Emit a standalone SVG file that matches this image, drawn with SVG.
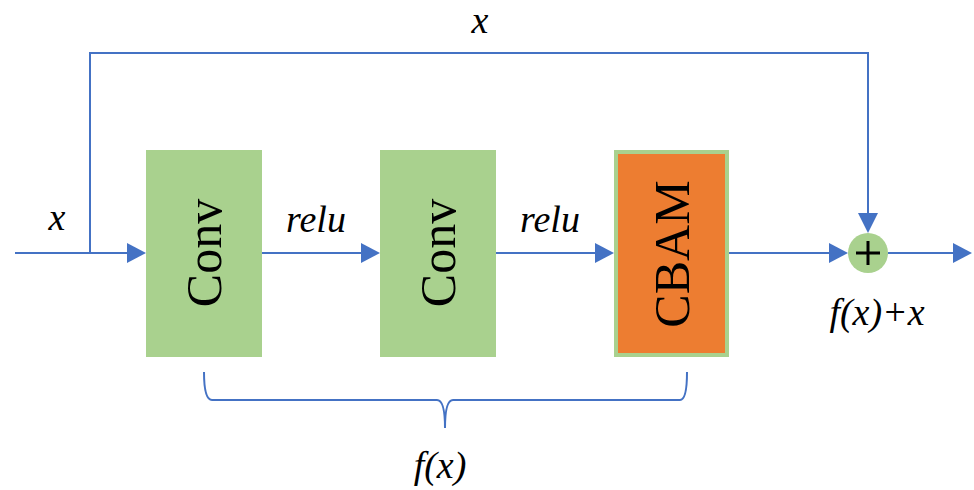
<svg xmlns="http://www.w3.org/2000/svg" width="974" height="490" viewBox="0 0 974 490">
<style>
.ln{stroke:#4472C4;stroke-width:2;fill:none}
.ah{fill:#4472C4}
</style>
<rect width="974" height="490" fill="#fff"/>
<g id="connectors">
  <path class="ln" d="M15,253 H128"/>
  <path class="ln" d="M90,253 V53 H868 V214"/>
  <path class="ln" d="M262,253 H362"/>
  <path class="ln" d="M496,253 H596"/>
  <path class="ln" d="M729,253 H830"/>
  <path class="ln" d="M888,253 H954"/>
  <path class="ah" d="M146,253 L127,243 L127,263 Z"/>
  <path class="ah" d="M380,253 L361,243 L361,263 Z"/>
  <path class="ah" d="M614,253 L595,243 L595,263 Z"/>
  <path class="ah" d="M848,253 L829,243 L829,263 Z"/>
  <path class="ah" d="M972,253 L953,243 L953,263 Z"/>
  <path class="ah" d="M868,233 L858,213 L878,213 Z"/>
  <path class="ln" d="M204,372 Q204,400 212,400 H437 Q445,400 445,428 Q445,400 453,400 H680 Q687,400 687,372"/>
</g>
<g id="conv1">
  <rect x="146" y="150" width="116" height="207" fill="#A9D18E"/>
  <text font-family="Liberation Serif, Times New Roman, serif" font-size="50" transform="translate(221,253) rotate(-90)" text-anchor="middle">Conv</text>
</g>
<g id="conv2">
  <rect x="380" y="150" width="116" height="207" fill="#A9D18E"/>
  <text font-family="Liberation Serif, Times New Roman, serif" font-size="50" transform="translate(455,253) rotate(-90)" text-anchor="middle">Conv</text>
</g>
<g id="cbam">
  <rect x="614" y="150" width="115" height="207" fill="#A9D18E"/>
  <rect x="618" y="154" width="107" height="199" fill="#ED7D31"/>
  <text font-family="Liberation Serif, Times New Roman, serif" font-size="50" transform="translate(689,254) rotate(-90)" text-anchor="middle">CBAM</text>
</g>
<g id="add">
  <circle cx="868" cy="253" r="20" fill="#A9D18E"/>
  <path d="M856,253 H880 M868,241 V265" stroke="#000" stroke-width="3"/>
</g>
<g id="labels">
  <text font-family="serif" font-style="italic" font-size="38" text-anchor="middle" x="480" y="33">x</text>
  <text font-family="serif" font-style="italic" font-size="38" text-anchor="middle" x="57" y="230">x</text>
  <text font-family="serif" font-style="italic" font-size="38" text-anchor="middle" x="316" y="232">relu</text>
  <text font-family="serif" font-style="italic" font-size="38" text-anchor="middle" x="550" y="232">relu</text>
  <text font-family="serif" font-style="italic" font-size="38" text-anchor="middle" x="877" y="325">f(x)+x</text>
  <text font-family="serif" font-style="italic" font-size="38" text-anchor="middle" x="440" y="478">f(x)</text>
</g>
</svg>
